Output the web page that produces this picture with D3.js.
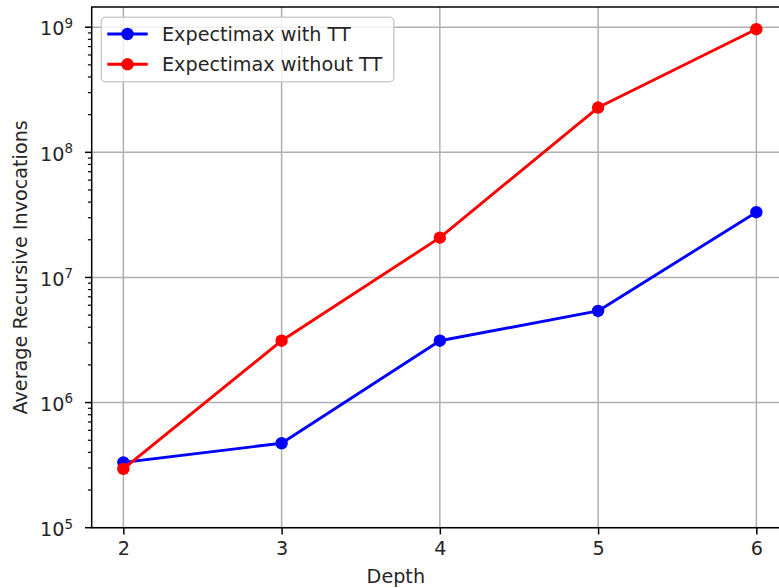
<!DOCTYPE html>
<html>
<head>
<meta charset="utf-8">
<script src="https://cdn.jsdelivr.net/npm/d3@7"></script>
<style>
  html, body { margin: 0; padding: 0; background: #fff; }
  svg { display: block; font-family: "DejaVu Sans", sans-serif; }
</style>
</head>
<body>
<svg id="chart" width="779" height="588"></svg>
<script>
// Search depth on the x axis
const depths = [2, 3, 4, 5, 6];
// Average number of recursive calls per move
const withTT = [3.33e5, 4.73e5, 3.12e6, 5.40e6, 3.32e7];
const withoutTT = [2.95e5, 3.12e6, 2.08e7, 2.28e8, 9.64e8];
const seriesNames = ["Expectimax with TT", "Expectimax without TT"];
const seriesColors = ["#0000ff", "#ff0000"];
const yTickExponents = [5, 6, 7, 8, 9];

const svg = d3.select("#chart");
const fs = 19.2;
const markerR = 6.2;

const plot = { left: 91.7, top: 7, right: 788, bottom: 527.7 };

const x = d3.scaleLinear().domain([1.8, 6.2]).range([plot.left, plot.right]);
const y = d3.scaleLog().domain([1e5, 1.45e9]).range([plot.bottom, plot.top]);

svg.append("defs").append("clipPath").attr("id", "plotclip")
  .append("rect")
  .attr("x", plot.left).attr("y", plot.top)
  .attr("width", plot.right - plot.left).attr("height", plot.bottom - plot.top);

// Grid lines
const grid = svg.append("g").attr("stroke", "#b0b0b0").attr("stroke-width", 1.5);
depths.forEach(d => {
  grid.append("line").attr("x1", x(d)).attr("x2", x(d)).attr("y1", plot.top).attr("y2", plot.bottom);
});
yTickExponents.forEach(e => {
  grid.append("line").attr("x1", plot.left).attr("x2", plot.right).attr("y1", y(Math.pow(10, e))).attr("y2", y(Math.pow(10, e)));
});

// X axis
const xAxis = d3.axisBottom(x).tickValues(depths).tickFormat(d3.format("d"))
  .tickSize(6.7).tickPadding(6.7);
const gx = svg.append("g").attr("transform", `translate(0,${plot.bottom})`).call(xAxis);
gx.select(".domain").remove();
gx.selectAll(".tick line").attr("stroke", "#000").attr("stroke-width", 1.5);
gx.selectAll(".tick text").attr("font-size", fs).attr("fill", "#262626")
  .attr("font-family", "DejaVu Sans").attr("dy", "0.71em");

// Y axis: major ticks with 10^n labels, minor ticks between decades
const minorVals = [];
for (let e = 5; e <= 9; e++) {
  for (let m = 2; m <= 9; m++) {
    const v = m * Math.pow(10, e);
    if (v <= y.domain()[1]) minorVals.push(v);
  }
}
const gy = svg.append("g");
minorVals.forEach(v => {
  gy.append("line").attr("x1", plot.left - 3.8).attr("x2", plot.left)
    .attr("y1", y(v)).attr("y2", y(v)).attr("stroke", "#000").attr("stroke-width", 1.2);
});
yTickExponents.forEach(e => {
  const yy = y(Math.pow(10, e));
  gy.append("line").attr("x1", plot.left - 6.7).attr("x2", plot.left)
    .attr("y1", yy).attr("y2", yy).attr("stroke", "#000").attr("stroke-width", 1.5);
  const t = gy.append("text").attr("x", 73).attr("y", yy + 8.3)
    .attr("text-anchor", "end").attr("fill", "#262626").attr("font-size", fs);
  t.append("tspan").text("10");
  t.append("tspan").attr("font-size", fs * 0.7).attr("dy", -7.5).text(String(e));
});

// Series lines and markers
const line = d3.line().x((d, i) => x(depths[i])).y(d => y(d));
const allSeries = [withTT, withoutTT];
const marks = svg.append("g").attr("clip-path", "url(#plotclip)");
allSeries.forEach((vals, k) => {
  marks.append("path").datum(vals).attr("d", line)
    .attr("fill", "none").attr("stroke", seriesColors[k]).attr("stroke-width", 2.9)
    .attr("stroke-linejoin", "round").attr("stroke-linecap", "square");
  marks.selectAll(null).data(vals).enter().append("circle")
    .attr("cx", (d, i) => x(depths[i])).attr("cy", d => y(d)).attr("r", markerR)
    .attr("fill", seriesColors[k]);
});

// Spines
svg.append("g").attr("stroke", "#000").attr("stroke-width", 1.5).attr("fill", "none")
  .append("rect").attr("x", plot.left).attr("y", plot.top)
  .attr("width", plot.right - plot.left).attr("height", plot.bottom - plot.top);

// Axis titles
svg.append("text").attr("x", (plot.left + plot.right) / 2 - 44).attr("y", 583)
  .attr("text-anchor", "middle").attr("font-size", fs).attr("fill", "#262626").text("Depth");
svg.append("text").attr("transform", `translate(27,${(plot.top + plot.bottom) / 2}) rotate(-90)`)
  .attr("text-anchor", "middle").attr("font-size", fs).attr("fill", "#262626")
  .text("Average Recursive Invocations");

// Legend
const lg = svg.append("g");
lg.append("rect").attr("x", 101.3).attr("y", 17.3).attr("width", 292.5).attr("height", 64.4)
  .attr("rx", 4).attr("fill", "#fff").attr("fill-opacity", 0.8)
  .attr("stroke", "#cccccc").attr("stroke-width", 1.5);
seriesNames.forEach((name, k) => {
  const ly = 34 + k * 30.3;
  lg.append("line").attr("x1", 107.3).attr("x2", 147.7).attr("y1", ly).attr("y2", ly)
    .attr("stroke", seriesColors[k]).attr("stroke-width", 2.9);
  lg.append("circle").attr("cx", 127.5).attr("cy", ly).attr("r", markerR).attr("fill", seriesColors[k]);
  lg.append("text").attr("x", 162).attr("y", ly + 7).attr("font-size", fs)
    .attr("fill", "#262626").text(name);
});
</script>
</body>
</html>
